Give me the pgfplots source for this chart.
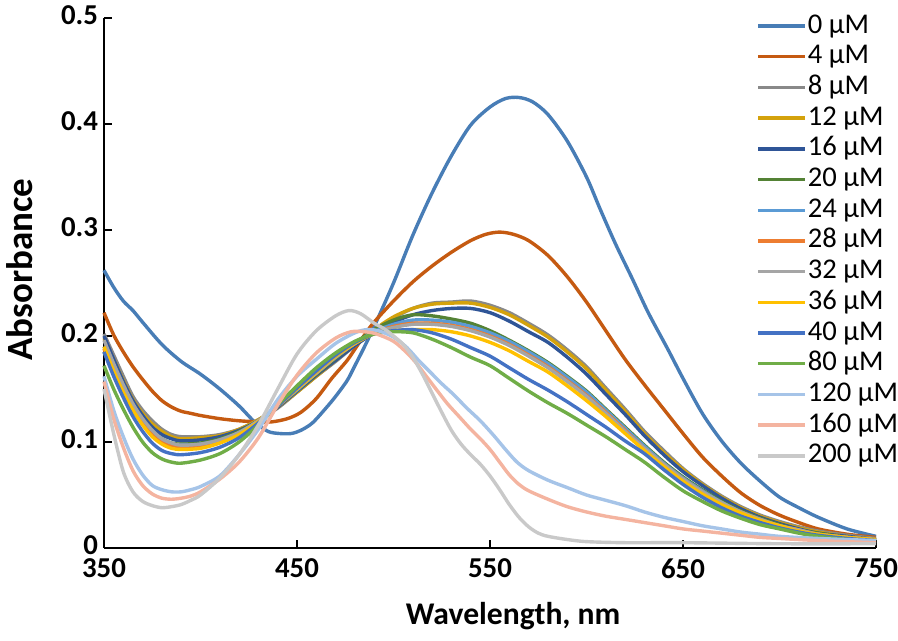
\documentclass[border=0pt]{standalone}
\usepackage{fontspec}
\setmainfont{Carlito}
\usepackage{pgfplots}
\pgfplotsset{compat=1.18}
\definecolor{c0}{RGB}{72,125,182}
\definecolor{c4}{RGB}{197,90,17}
\definecolor{c8}{RGB}{137,137,137}
\definecolor{c12}{RGB}{212,162,12}
\definecolor{c16}{RGB}{47,85,151}
\definecolor{c20}{RGB}{84,130,53}
\definecolor{c24}{RGB}{91,155,213}
\definecolor{c28}{RGB}{237,125,49}
\definecolor{c32}{RGB}{165,165,165}
\definecolor{c36}{RGB}{255,192,0}
\definecolor{c40}{RGB}{68,114,196}
\definecolor{c80}{RGB}{112,173,71}
\definecolor{c120}{RGB}{166,196,232}
\definecolor{c160}{RGB}{244,180,160}
\definecolor{c200}{RGB}{201,201,201}
\begin{document}
\begin{tikzpicture}
\useasboundingbox (-52pt,-46.5pt) rectangle (397pt,274pt);
\begin{axis}[
  scale only axis, width=386pt, height=265pt,
  at={(0pt,0pt)}, anchor=south west,
  xmin=350, xmax=750, ymin=0, ymax=0.5,
  xtick={350,450,550,650,750},
  ytick={0,0.1,0.2,0.3,0.4,0.5},
  axis lines=left, axis line style={-, line width=0.8pt, black},
  tick align=inside, major tick length=3.8pt,
  tick style={line width=0.8pt, black},
  /pgf/number format/assume math mode=true,
  yticklabel style={/pgf/number format/fixed, /pgf/number format/precision=1, font=\bfseries\fontsize{14.4}{16}\selectfont, xshift=0.5pt, yshift=1.5pt},
  xticklabel style={font=\bfseries\fontsize{14.4}{16}\selectfont, yshift=-2pt},
  xlabel={Wavelength, nm}, ylabel={Absorbance},
  xlabel style={at={([yshift=-34pt]axis description cs:0.53,0)}, anchor=center, font=\bfseries\fontsize{15.8}{18}\selectfont},
  ylabel style={at={([xshift=-42pt]axis description cs:0,0.525)}, anchor=center, font=\bfseries\fontsize{18.5}{20}\selectfont},
  every axis plot/.append style={line width=1.7pt, smooth, no markers},
  legend image code/.code={\draw[#1] (0pt,0pt) -- (23.5pt,0pt);},
  legend cell align=left,
  legend style={draw=none, fill=none, at={(0.8446,1.012)}, anchor=north west, inner sep=0pt, row sep=1.35pt,
    font=\fontsize{14.3}{16}\selectfont,
    nodes={inner sep=0.5pt, text height=10pt, text depth=3pt}},
  clip=false
]
\addplot[c0] coordinates {(350,0.262)(355,0.246)(360,0.233)(365,0.224)(370,0.213)(380,0.192)(390,0.176)(400,0.164)(410,0.150)(420,0.134)(428,0.119)(435,0.110)(441,0.108)(447,0.108)(452,0.111)(458,0.118)(465,0.132)(470,0.143)(476,0.158)(480,0.172)(485,0.190)(491,0.213)(500,0.250)(510,0.295)(520,0.335)(530,0.370)(540,0.399)(550,0.416)(558,0.424)(565,0.425)(572,0.421)(580,0.409)(590,0.384)(600,0.350)(607,0.320)(615,0.287)(624,0.253)(632,0.222)(642,0.188)(650,0.160)(660,0.127)(670,0.101)(680,0.080)(690,0.063)(700,0.048)(710,0.038)(720,0.029)(735,0.018)(750,0.011)};
\addlegendentry{0 µM}
\addplot[c4] coordinates {(350,0.222)(355,0.201)(360,0.185)(365,0.171)(370,0.159)(375,0.148)(380,0.139)(385,0.133)(390,0.129)(395,0.127)(400,0.125)(410,0.122)(420,0.120)(430,0.119)(437,0.119)(445,0.122)(452,0.128)(460,0.141)(468,0.160)(476,0.177)(482,0.193)(489,0.211)(500,0.233)(510,0.251)(520,0.266)(530,0.279)(540,0.290)(548,0.296)(555,0.298)(562,0.296)(570,0.290)(580,0.276)(590,0.256)(600,0.232)(610,0.205)(620,0.178)(630,0.154)(640,0.131)(650,0.108)(660,0.086)(670,0.068)(680,0.052)(690,0.040)(700,0.031)(710,0.024)(720,0.018)(735,0.013)(750,0.010)};
\addlegendentry{4 µM}
\addplot[c8] coordinates {(350,0.202)(355,0.182)(360,0.162)(365,0.143)(370,0.130)(375,0.120)(380,0.112)(385,0.107)(390,0.105)(400,0.105)(410,0.107)(420,0.112)(430,0.121)(440,0.132)(450,0.147)(460,0.162)(470,0.176)(480,0.191)(490,0.205)(500,0.217)(510,0.226)(520,0.231)(530,0.232)(540,0.233)(550,0.229)(560,0.222)(570,0.212)(580,0.201)(590,0.187)(600,0.171)(610,0.151)(620,0.131)(630,0.110)(640,0.092)(650,0.075)(660,0.061)(670,0.049)(680,0.039)(690,0.031)(700,0.025)(710,0.020)(720,0.016)(735,0.012)(750,0.009)};
\addlegendentry{8 µM}
\addplot[c12] coordinates {(350,0.198)(355,0.178)(360,0.158)(365,0.140)(370,0.127)(375,0.117)(380,0.110)(385,0.105)(390,0.103)(400,0.104)(410,0.106)(420,0.112)(430,0.121)(440,0.133)(450,0.147)(460,0.162)(470,0.177)(480,0.192)(490,0.206)(500,0.218)(510,0.226)(520,0.230)(530,0.231)(540,0.231)(550,0.227)(560,0.220)(570,0.210)(580,0.199)(590,0.185)(600,0.169)(610,0.149)(620,0.129)(630,0.108)(640,0.090)(650,0.074)(660,0.060)(670,0.048)(680,0.038)(690,0.030)(700,0.024)(710,0.019)(720,0.015)(735,0.011)(750,0.008)};
\addlegendentry{12 µM}
\addplot[c16] coordinates {(350,0.200)(355,0.178)(360,0.157)(365,0.139)(370,0.125)(375,0.114)(380,0.107)(385,0.103)(390,0.101)(400,0.102)(410,0.105)(420,0.111)(430,0.120)(440,0.133)(450,0.148)(460,0.163)(470,0.177)(480,0.191)(490,0.203)(500,0.213)(510,0.220)(520,0.224)(530,0.226)(540,0.226)(550,0.222)(560,0.214)(570,0.204)(580,0.194)(590,0.180)(600,0.164)(610,0.145)(620,0.126)(630,0.106)(640,0.088)(650,0.072)(660,0.059)(670,0.047)(680,0.037)(690,0.029)(700,0.023)(710,0.018)(720,0.014)(735,0.011)(750,0.008)};
\addlegendentry{16 µM}
\addplot[c20] coordinates {(350,0.185)(355,0.165)(360,0.147)(365,0.131)(370,0.118)(375,0.109)(380,0.103)(385,0.099)(390,0.098)(400,0.099)(410,0.103)(420,0.110)(430,0.120)(440,0.134)(450,0.149)(460,0.164)(470,0.179)(480,0.193)(490,0.206)(500,0.215)(510,0.220)(520,0.219)(530,0.216)(540,0.212)(550,0.205)(560,0.196)(570,0.186)(580,0.175)(590,0.162)(600,0.148)(610,0.131)(620,0.114)(630,0.097)(640,0.081)(650,0.067)(660,0.055)(670,0.044)(680,0.035)(690,0.028)(700,0.022)(710,0.017)(720,0.014)(735,0.010)(750,0.008)};
\addlegendentry{20 µM}
\addplot[c24] coordinates {(350,0.190)(355,0.169)(360,0.150)(365,0.133)(370,0.120)(375,0.110)(380,0.103)(385,0.098)(390,0.097)(400,0.098)(410,0.102)(420,0.109)(430,0.120)(440,0.134)(450,0.149)(460,0.165)(470,0.180)(480,0.193)(490,0.204)(500,0.211)(510,0.215)(520,0.215)(530,0.213)(540,0.209)(550,0.203)(560,0.195)(570,0.185)(580,0.174)(590,0.161)(600,0.147)(610,0.130)(620,0.113)(630,0.096)(640,0.080)(650,0.066)(660,0.054)(670,0.043)(680,0.034)(690,0.027)(700,0.021)(710,0.017)(720,0.013)(735,0.010)(750,0.008)};
\addlegendentry{24 µM}
\addplot[c28] coordinates {(350,0.188)(355,0.166)(360,0.147)(365,0.130)(370,0.117)(375,0.107)(380,0.100)(385,0.096)(390,0.095)(400,0.096)(410,0.100)(420,0.108)(430,0.120)(440,0.134)(450,0.150)(460,0.165)(470,0.180)(480,0.193)(490,0.203)(500,0.209)(510,0.212)(520,0.212)(530,0.210)(540,0.206)(550,0.200)(560,0.192)(570,0.182)(580,0.171)(590,0.158)(600,0.144)(610,0.128)(620,0.111)(630,0.094)(640,0.079)(650,0.065)(660,0.053)(670,0.042)(680,0.034)(690,0.027)(700,0.021)(710,0.017)(720,0.013)(735,0.010)(750,0.008)};
\addlegendentry{28 µM}
\addplot[c32] coordinates {(350,0.196)(355,0.174)(360,0.154)(365,0.136)(370,0.122)(375,0.111)(380,0.103)(385,0.099)(390,0.097)(400,0.098)(410,0.102)(420,0.109)(430,0.120)(440,0.134)(450,0.150)(460,0.165)(470,0.180)(480,0.193)(490,0.203)(500,0.208)(510,0.211)(520,0.211)(530,0.209)(540,0.205)(550,0.199)(560,0.191)(570,0.181)(580,0.170)(590,0.157)(600,0.143)(610,0.127)(620,0.110)(630,0.094)(640,0.079)(650,0.065)(660,0.053)(670,0.043)(680,0.034)(690,0.027)(700,0.021)(710,0.017)(720,0.013)(735,0.010)(750,0.008)};
\addlegendentry{32 µM}
\addplot[c36] coordinates {(350,0.190)(355,0.167)(360,0.147)(365,0.130)(370,0.116)(375,0.105)(380,0.098)(385,0.094)(390,0.093)(400,0.094)(410,0.099)(420,0.107)(430,0.119)(440,0.134)(450,0.150)(460,0.166)(470,0.181)(480,0.193)(490,0.202)(500,0.205)(510,0.206)(520,0.206)(530,0.204)(540,0.200)(550,0.194)(560,0.186)(570,0.176)(580,0.166)(590,0.153)(600,0.139)(610,0.124)(620,0.108)(630,0.092)(640,0.077)(650,0.063)(660,0.051)(670,0.041)(680,0.033)(690,0.026)(700,0.021)(710,0.016)(720,0.013)(735,0.010)(750,0.008)};
\addlegendentry{36 µM}
\addplot[c40] coordinates {(350,0.185)(355,0.162)(360,0.142)(365,0.124)(370,0.110)(375,0.099)(380,0.092)(385,0.089)(390,0.088)(400,0.090)(410,0.095)(420,0.104)(430,0.118)(440,0.134)(450,0.151)(460,0.167)(470,0.182)(480,0.194)(490,0.202)(500,0.205)(510,0.206)(520,0.203)(530,0.197)(540,0.189)(550,0.181)(560,0.170)(570,0.159)(580,0.149)(590,0.138)(600,0.126)(610,0.114)(620,0.101)(630,0.089)(640,0.074)(650,0.060)(660,0.048)(670,0.038)(680,0.030)(690,0.024)(700,0.019)(710,0.015)(720,0.012)(735,0.009)(750,0.007)};
\addlegendentry{40 µM}
\addplot[c80] coordinates {(350,0.172)(355,0.150)(360,0.131)(365,0.114)(370,0.100)(375,0.090)(380,0.084)(385,0.081)(390,0.080)(400,0.083)(410,0.089)(420,0.100)(430,0.116)(440,0.135)(450,0.153)(460,0.170)(470,0.184)(480,0.195)(490,0.202)(500,0.204)(510,0.203)(520,0.197)(530,0.189)(540,0.180)(550,0.172)(560,0.160)(570,0.148)(580,0.137)(590,0.127)(600,0.116)(610,0.105)(620,0.093)(630,0.081)(640,0.067)(650,0.054)(660,0.044)(670,0.035)(680,0.028)(690,0.022)(700,0.018)(710,0.014)(720,0.011)(735,0.008)(750,0.006)};
\addlegendentry{80 µM}
\addplot[c120] coordinates {(350,0.162)(355,0.130)(360,0.105)(365,0.084)(370,0.069)(375,0.059)(380,0.055)(385,0.053)(390,0.053)(395,0.055)(400,0.058)(410,0.068)(420,0.088)(430,0.112)(440,0.140)(450,0.162)(460,0.178)(470,0.193)(480,0.203)(486,0.206)(492,0.205)(500,0.199)(507,0.189)(513,0.177)(519,0.166)(525,0.155)(531,0.145)(538,0.132)(545,0.120)(552,0.106)(558,0.093)(564,0.081)(570,0.073)(580,0.064)(590,0.057)(600,0.050)(610,0.045)(620,0.040)(630,0.034)(640,0.029)(650,0.025)(660,0.021)(670,0.018)(680,0.015)(690,0.013)(700,0.011)(720,0.009)(750,0.007)};
\addlegendentry{120 µM}
\addplot[c160] coordinates {(350,0.157)(355,0.122)(360,0.095)(365,0.073)(370,0.059)(375,0.051)(380,0.047)(385,0.046)(390,0.047)(395,0.049)(400,0.053)(410,0.065)(420,0.081)(430,0.104)(440,0.135)(450,0.163)(460,0.184)(470,0.198)(478,0.204)(485,0.204)(491,0.202)(500,0.195)(507,0.184)(512,0.174)(517,0.162)(522,0.150)(528,0.136)(534,0.124)(540,0.112)(545,0.103)(550,0.093)(555,0.081)(560,0.069)(565,0.060)(570,0.054)(580,0.046)(590,0.039)(600,0.034)(610,0.030)(620,0.027)(630,0.024)(640,0.021)(650,0.018)(660,0.016)(670,0.014)(680,0.012)(690,0.010)(700,0.009)(720,0.007)(750,0.005)};
\addlegendentry{160 µM}
\addplot[c200] coordinates {(350,0.150)(355,0.108)(360,0.072)(365,0.053)(370,0.044)(375,0.040)(380,0.038)(385,0.039)(390,0.041)(395,0.045)(400,0.050)(410,0.066)(420,0.088)(430,0.116)(440,0.150)(450,0.183)(460,0.205)(470,0.219)(477,0.224)(483,0.221)(490,0.212)(495,0.207)(500,0.200)(505,0.192)(510,0.180)(515,0.164)(520,0.146)(525,0.128)(530,0.111)(535,0.098)(540,0.088)(545,0.079)(550,0.068)(555,0.055)(560,0.041)(565,0.029)(570,0.020)(575,0.014)(580,0.011)(590,0.008)(600,0.006)(620,0.005)(650,0.005)(700,0.004)(750,0.004)};
\addlegendentry{200 µM}
\end{axis}
\end{tikzpicture}
\end{document}
